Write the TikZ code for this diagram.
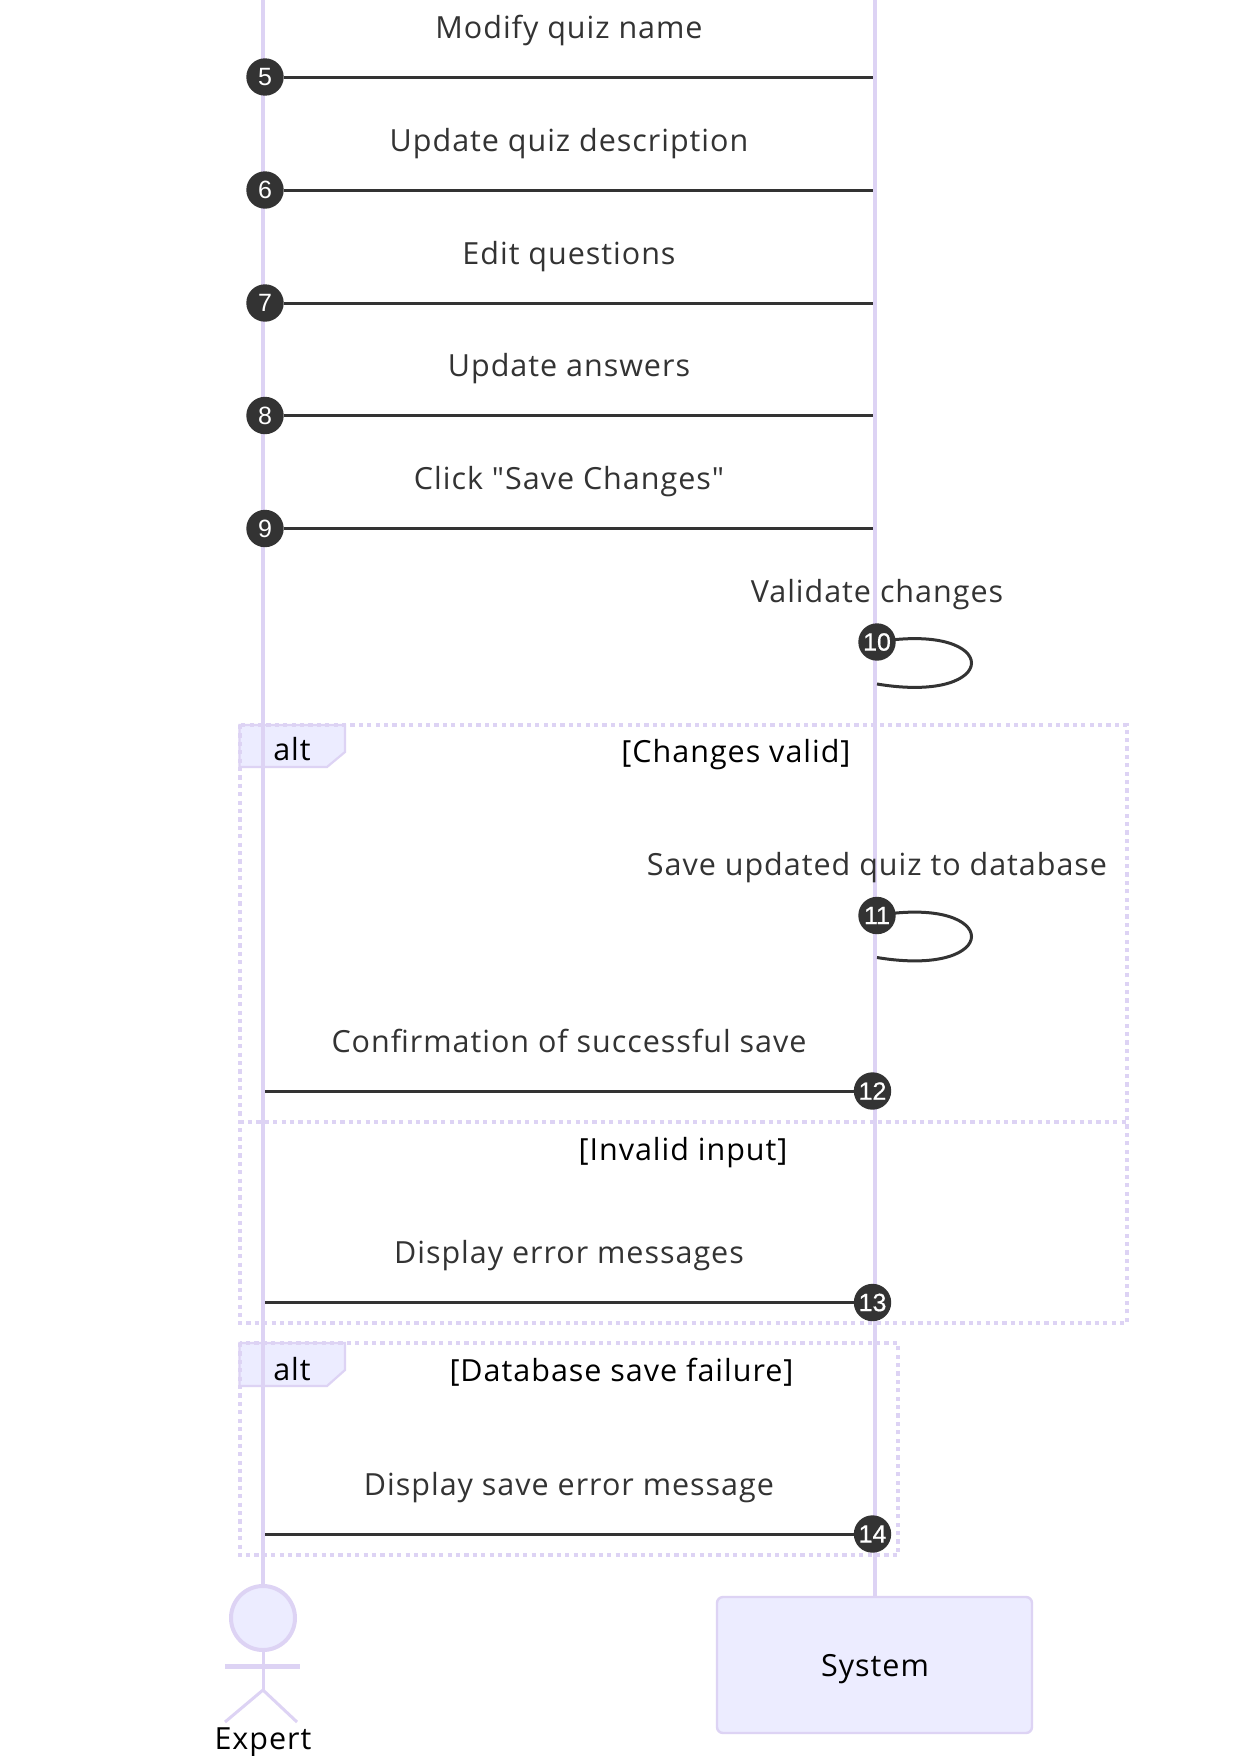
\documentclass[tikz,border=0pt]{standalone}
\usepackage{fontspec}
\newfontfamily\txtfont[LetterSpace=3.2]{Open Sans}
\newfontfamily\numfont{Liberation Sans}
\newfontfamily\numboldfont[FakeBold=0.5]{Liberation Sans}
\definecolor{lifeC}{HTML}{DDD3F4}
\definecolor{fillC}{HTML}{ECECFF}
\definecolor{msgC}{HTML}{333333}
\tikzset{
  msgtext/.style={anchor=base,inner sep=0pt,text=msgC,font=\txtfont\fontsize{30.5}{34}\selectfont},
  lbltext/.style={anchor=base,inner sep=0pt,text=black,font=\txtfont\fontsize{30.5}{34}\selectfont},
  lifeline/.style={draw=lifeC,line width=3.6pt},
  msgline/.style={draw=msgC,line width=3pt},
  numdot/.style={circle,fill=msgC,minimum size=37.4pt,inner sep=0pt,text=white,font=\numfont\fontsize{25}{28}\selectfont},
  numdotb/.style={numdot,font=\numboldfont\fontsize{25}{28}\selectfont},
  loopbox/.style={draw=lifeC,line width=4pt,dash pattern=on 4.2pt off 4.2pt},
  altlabel/.style={draw=lifeC,fill=fillC,line width=2.2pt},
  actorline/.style={draw=lifeC,line width=4pt},
}
\begin{document}
\begin{tikzpicture}[x=1pt,y=-1pt]
\useasboundingbox (0,0) rectangle (1232,1756);
\fill[white] (0,0) rectangle (1232,1756);
% alt frames
\draw[altlabel] (239.5,725) -- (345,725) -- (345,752) -- (327,767) -- (239.5,767) -- cycle;
\draw[altlabel] (239.5,1343) -- (345,1343) -- (345,1370) -- (327,1386) -- (239.5,1386) -- cycle;
\draw[loopbox] (239.5,725) rectangle (1127,1323);
\draw[loopbox] (239.5,1122) -- (1127,1122);
\draw[loopbox] (239.5,1343) rectangle (898,1555);
% actors
\node[draw=lifeC,fill=fillC,line width=2.4pt,rounded corners=6pt,minimum width=315pt,minimum height=136pt,inner sep=0pt] (sysbox) at (874.5,1665) {};
\node[lbltext] (systxt) at (875,1676.7) {System};
\node[circle,draw=lifeC,fill=fillC,line width=4pt,minimum size=64pt,inner sep=0pt] (head) at (263,1618) {};
\coordinate (neck) at (263,1690);
\coordinate (armL) at (225,1666);
\coordinate (armR) at (300,1666);
\coordinate (legL) at (225,1722);
\coordinate (legR) at (297,1722);
\draw[actorline,line width=3pt] (head.south) -- (neck);
\draw[actorline,line width=5pt] (armL) -- (armR);
\draw[actorline,line width=3pt] (legL) -- (neck) -- (legR);
\node[lbltext] (expert) at (263,1749) {Expert};
% lifelines
\coordinate (ltop) at (263,0);
\coordinate (rtop) at (875,0);
\draw[lifeline] (ltop) -- (head.north);
\draw[lifeline] (rtop) -- (sysbox.north -| rtop);
% message texts
\node[msgtext] (t5) at (569,38) {Modify quiz name};
\node[msgtext] (t6) at (569,151) {Update quiz description};
\node[msgtext] (t7) at (569,264) {Edit questions};
\node[msgtext] (t8) at (569,376.5) {Update answers};
\node[msgtext] (t9) at (569,489.5) {Click "Save Changes"};
\node[msgtext] (t10) at (877,602) {Validate changes};
\node[msgtext] (t11) at (877,875.7) {Save updated quiz to database};
\node[msgtext] (t12) at (569,1052) {Confirmation of successful save};
\node[msgtext] (t13) at (569,1263.5) {Display error messages};
\node[msgtext] (t14) at (569,1495) {Display save error message};
% alt texts
\node[lbltext] (a1) at (292,760.5) {alt};
\node[lbltext] (a2) at (292,1380.5) {alt};
\node[lbltext] (c1) at (736,762.5) {[Changes valid]};
\node[lbltext] (c2) at (683,1160) {[Invalid input]};
\node[lbltext] (c3) at (621.5,1381.5) {[Database save failure]};
% number dots and messages
\node[numdot] (n5) at (265,77) {5};
\node[numdot] (n6) at (265,190) {6};
\node[numdot] (n7) at (265,303) {7};
\node[numdot] (n8) at (265,415.5) {8};
\node[numdot] (n9) at (265,528.5) {9};
\coordinate (e5) at (872.5,77);
\coordinate (e6) at (872.5,190);
\coordinate (e7) at (872.5,303);
\coordinate (e8) at (872.5,415.5);
\coordinate (e9) at (872.5,528.5);
\draw[msgline] (n5) -- (e5);
\draw[msgline] (n6) -- (e6);
\draw[msgline] (n7) -- (e7);
\draw[msgline] (n8) -- (e8);
\draw[msgline] (n9) -- (e9);
\coordinate (e10) at (877,684);
\coordinate (e11) at (877,957.5);
\coordinate (b10) at (877,642);
\coordinate (b11) at (877,915.5);
\draw[msgline] (b10) .. controls +(126,-21) and +(126,21) .. (e10);
\node[numdotb] (n10) at (b10) {10};
\draw[msgline] (b11) .. controls +(126,-21) and +(126,21) .. (e11);
\node[numdotb] (n11) at (b11) {11};
\coordinate (s12) at (265,1091);
\coordinate (s13) at (265,1302.5);
\coordinate (s14) at (265,1534);
\node[numdotb] (n12) at (872.5,1091) {12};
\node[numdotb] (n13) at (872.5,1302.5) {13};
\node[numdotb] (n14) at (872.5,1534) {14};
\draw[msgline] (s12) -- (n12);
\draw[msgline] (s13) -- (n13);
\draw[msgline] (s14) -- (n14);
\end{tikzpicture}
\end{document}
